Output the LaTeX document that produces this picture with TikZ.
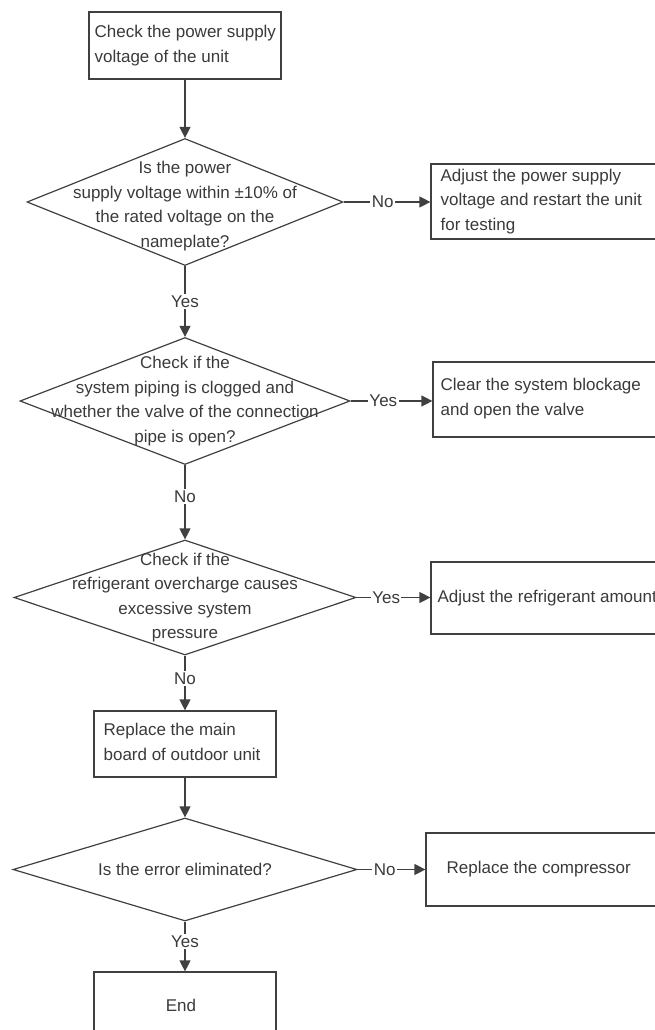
\documentclass[tikz,border=0pt]{standalone}
\usepackage{fontspec}
\setmainfont{Liberation Sans}
\usetikzlibrary{shapes.geometric,arrows.meta}
\definecolor{ln}{RGB}{64,64,64}
\definecolor{tx}{RGB}{58,58,58}
\begin{document}
\begin{tikzpicture}[x=1pt,y=-1pt,
  font=\fontsize{17}{24.5}\selectfont,
  stepbox/.style={draw=ln, line width=1.2pt, rectangle, inner sep=0pt},
  decision/.style={draw=ln, line width=1.2pt, diamond, inner sep=0pt},
  txt/.style={text=tx, inner sep=0pt},
  ctxt/.style={text=tx, inner sep=0pt, align=center},
  ltxt/.style={text=tx, inner sep=0pt, align=left, anchor=west},
  lab/.style={text=tx, fill=white, inner sep=1.5pt},
  arr/.style={draw=ln, line width=1.2pt, -{Triangle[length=11pt,width=11pt]}}]
\useasboundingbox (0,0) rectangle (655,1030);
\clip (0,0) rectangle (655,1030);

% boxes
\node[stepbox, minimum width=192pt, minimum height=67pt] (b1) at (185,45.5) {};
\node[stepbox, minimum width=231pt, minimum height=75pt] (b2) at (546.5,201.5) {};
\node[stepbox, minimum width=229pt, minimum height=75pt] (b3) at (547.5,399.5) {};
\node[stepbox, minimum width=231pt, minimum height=72pt] (b4) at (546.5,598) {};
\node[stepbox, minimum width=182pt, minimum height=66pt] (b5) at (185,744) {};
\node[stepbox, minimum width=236pt, minimum height=73pt] (b6) at (544,869.5) {};
\node[stepbox, minimum width=182pt, minimum height=68pt] (b7) at (185,1006) {};

% diamonds
\node[decision, minimum width=316pt, minimum height=127pt] (d1) at (185,202) {};
\node[decision, minimum width=330pt, minimum height=127pt] (d2) at (185,401) {};
\node[decision, minimum width=342pt, minimum height=115pt] (d3) at (185,597.5) {};
\node[decision, minimum width=344pt, minimum height=103pt] (d4) at (185,869.5) {};

% texts
\node[ltxt] (t1) at ([xshift=6pt]b1.west) {Check the power supply\\voltage of the unit};
\node[ltxt] (t2) at ([xshift=10pt]b2.west) {Adjust the power supply\\voltage and restart the unit\\for testing};
\node[ltxt] (t3) at ([xshift=8pt,yshift=1pt]b3.west) {Clear the system blockage\\and open the valve};
\node[ltxt] (t4) at ([xshift=7pt]b4.west) {Adjust the refrigerant amount};
\node[ltxt] (t5) at ([xshift=10pt,yshift=2pt]b5.west) {Replace the main\\board of outdoor unit};
\node[ltxt] (t6) at ([xshift=21pt]b6.west) {Replace the compressor};
\node[txt] (t7) at ([xshift=-4pt,yshift=1pt]b7.center) {End};

\node[ctxt] (q1) at ([yshift=-4pt]d1.center) {Is the power\\supply voltage within ±10\% of\\the rated voltage on the\\nameplate?};
\node[ctxt] (q2) at (d2.center) {Check if the\\system piping is clogged and\\whether the valve of the connection\\pipe is open?};
\node[ctxt] (q3) at (d3.center) {Check if the\\refrigerant overcharge causes\\excessive system\\pressure};
\node[ctxt] (q4) at (d4.center) {Is the error eliminated?};

% connectors
\draw[arr] (b1) -- (d1);
\draw[arr] (d1.east) -- node[lab, pos=0.45] {No} (d1.east -| b2.west);
\draw[arr] (d1) -- node[lab] {Yes} (d2);
\draw[arr] (d2.east) -- node[lab, pos=0.4] {Yes} (d2.east -| b3.west);
\draw[arr] (d2) -- node[lab, pos=0.42] {No} (d3);
\draw[arr] (d3.east) -- node[lab, pos=0.4] {Yes} (d3.east -| b4.west);
\draw[arr] (d3) -- node[lab, pos=0.42] {No} (b5);
\draw[arr] (b5) -- (d4);
\draw[arr] (d4.east) -- node[lab, pos=0.4] {No} (d4.east -| b6.west);
\draw[arr] (d4) -- node[lab, pos=0.4] {Yes} (b7);
\end{tikzpicture}
\end{document}
